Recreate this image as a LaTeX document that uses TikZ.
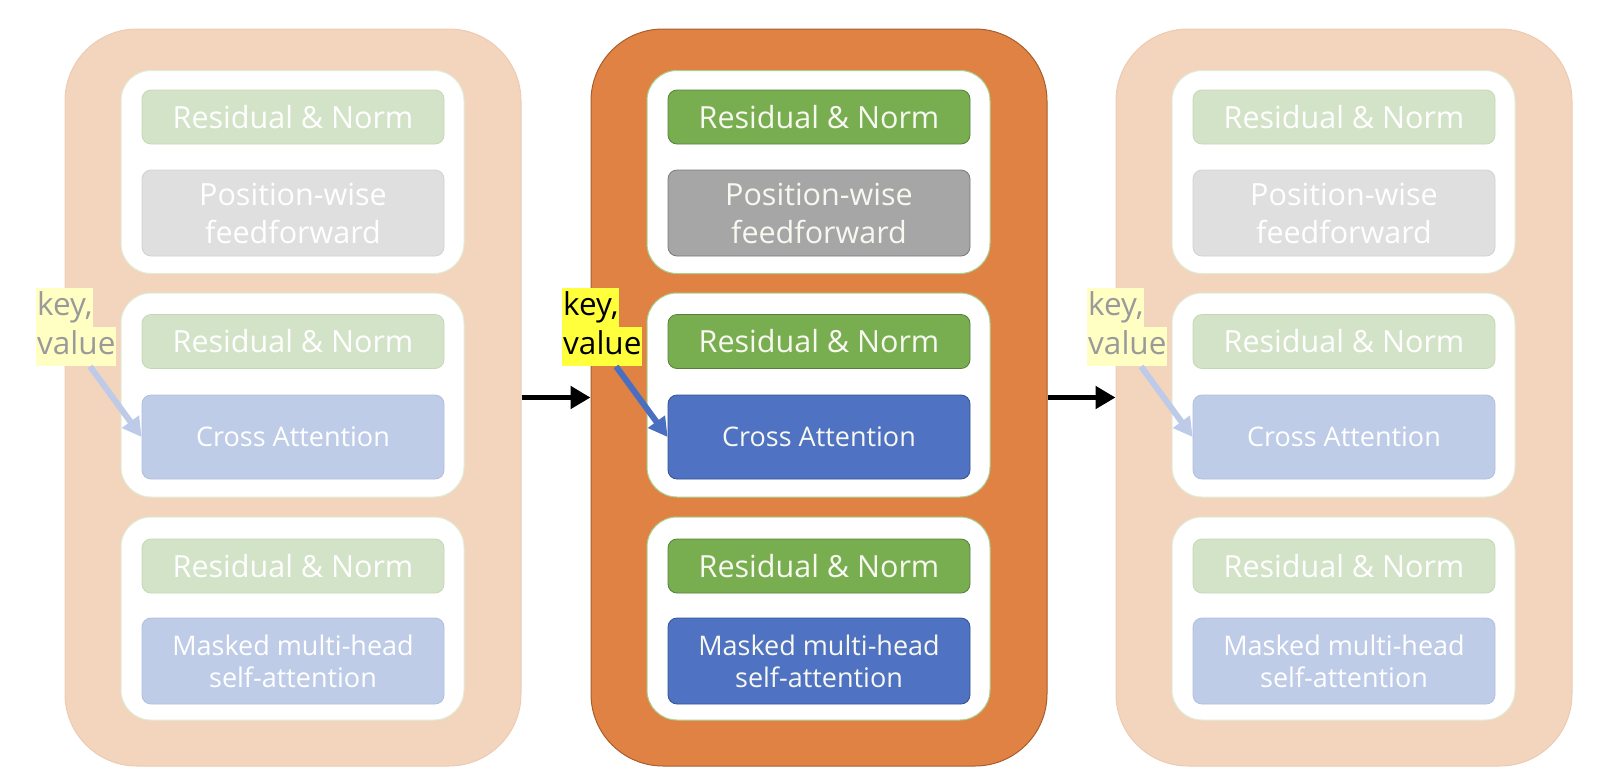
\documentclass[tikz,border=0pt]{standalone}
\usepackage{fontspec}
\setmainfont{Open Sans}
\usetikzlibrary{arrows.meta,calc}
\definecolor{orgM}{HTML}{DF8244}
\definecolor{orgD}{HTML}{A85E2C}
\definecolor{peach}{HTML}{F3D4BD}
\definecolor{peachD}{HTML}{EDCBB2}
\definecolor{wbA}{HTML}{A9D08E}
\definecolor{wbF}{HTML}{E0EDD6}
\definecolor{grnA}{HTML}{78AE50}
\definecolor{grnAD}{HTML}{56803A}
\definecolor{grnF}{HTML}{D3E3C8}
\definecolor{grnFD}{HTML}{C4D8B6}
\definecolor{gryA}{HTML}{A6A6A6}
\definecolor{gryAD}{HTML}{7A7A7A}
\definecolor{gryF}{HTML}{DFDFDF}
\definecolor{gryFD}{HTML}{D2D2D2}
\definecolor{bluA}{HTML}{4F72C2}
\definecolor{bluAD}{HTML}{34528F}
\definecolor{bluF}{HTML}{BFCCE8}
\definecolor{bluFD}{HTML}{B0BFDF}
\definecolor{yelA}{HTML}{FFFF3C}
\definecolor{yelF}{HTML}{FFFFC4}
\definecolor{ktF}{HTML}{9A9A9A}
\definecolor{karA}{HTML}{4A6FC0}
\definecolor{karF}{HTML}{BDCBE8}
\definecolor{txtA}{HTML}{F7F8F0}
\begin{document}
\begin{tikzpicture}[x=1pt,y=-1pt,
  bigbox/.style={bigc, line width=1pt, rounded corners=72pt, minimum width=456pt, minimum height=737pt, inner sep=0pt},
  wbox/.style={wboxc, fill=white, line width=1pt, rounded corners=30pt, minimum width=343pt, minimum height=203pt, inner sep=0pt},
  blk/.style={rounded corners=9pt, minimum width=302pt, line width=0.8pt, inner sep=0pt, align=center},
  grnbox/.style={blk, grnc, minimum height=54pt, font=\fontsize{30.5}{36}\selectfont},
  ffbox/.style={blk, gryc, minimum height=86pt, font=\fontsize{30.5}{38}\selectfont},
  attbox/.style={blk, bluc, minimum height=85pt, font=\fontsize{27}{32}\selectfont},
  keylbl/.style={keyc, anchor=north west, inner xsep=1pt, inner ysep=0pt, minimum height=39pt, text height=22pt, text depth=7pt, font=\fontsize{31.5}{34}\selectfont},
  karrow/.style={karc, line width=6pt, -{Triangle[length=19pt,width=20pt]}},
  blkarrow/.style={black, line width=5pt, -{Triangle[length=20pt,width=22pt]}},
  active/.style={
    bigc/.style={fill=orgM, draw=orgD},
    wboxc/.style={draw=wbA},
    grnc/.style={fill=grnA, draw=grnAD, text=txtA},
    gryc/.style={fill=gryA, draw=gryAD, text=txtA},
    bluc/.style={fill=bluA, draw=bluAD, text=txtA},
    keyc/.style={fill=yelA, text=black},
    karc/.style={draw=karA, fill=karA}},
  faded/.style={
    bigc/.style={fill=peach, draw=peachD},
    wboxc/.style={draw=wbF},
    grnc/.style={fill=grnF, draw=grnFD, text=white},
    gryc/.style={fill=gryF, draw=gryFD, text=white},
    bluc/.style={fill=bluF, draw=bluFD, text=white},
    keyc/.style={fill=yelF, text=ktF},
    karc/.style={draw=karF, fill=karF}}
]
\useasboundingbox (0,0) rectangle (1610,780);
\foreach \c/\dx/\act in {L/-526/0, M/0/1, R/525/0}{
  \ifnum\act=1 \tikzset{active}\else\tikzset{faded}\fi
  \begin{scope}[xshift=\dx pt]
    \node[bigbox] (big\c) at (819,397.5) {};
    \node[wbox] (wa\c) at (818.5,172) {};
    \node[wbox, minimum height=204pt] (wb\c) at (818.5,395) {};
    \node[wbox] (wc\c) at (818.5,618.5) {};
    \node[grnbox] (rn1\c) at (819,117) {Residual \& Norm};
    \node[ffbox] (ff\c) at (819,213) {Position-wise\\feedforward};
    \node[grnbox] (rn2\c) at (819,341.5) {Residual \& Norm};
    \node[attbox, minimum height=84pt] (cross\c) at (819,437) {Cross Attention};
    \node[grnbox] (rn3\c) at (819,566) {Residual \& Norm};
    \node[attbox, minimum height=86pt] (mask\c) at (819,661) {Masked multi-head\\self-attention};
    \node[keylbl] (key\c) at (562,288) {key,};
    \node[keylbl] (val\c) at (562,327) {value};
    \draw[karrow] ($(val\c.south west)!0.67!(val\c.south east)$) -- (cross\c.west);
  \end{scope}
}
\draw[blkarrow] (bigL.east) -- (bigM.west);
\draw[blkarrow] (bigM.east) -- (bigR.west);
\end{tikzpicture}
\end{document}
